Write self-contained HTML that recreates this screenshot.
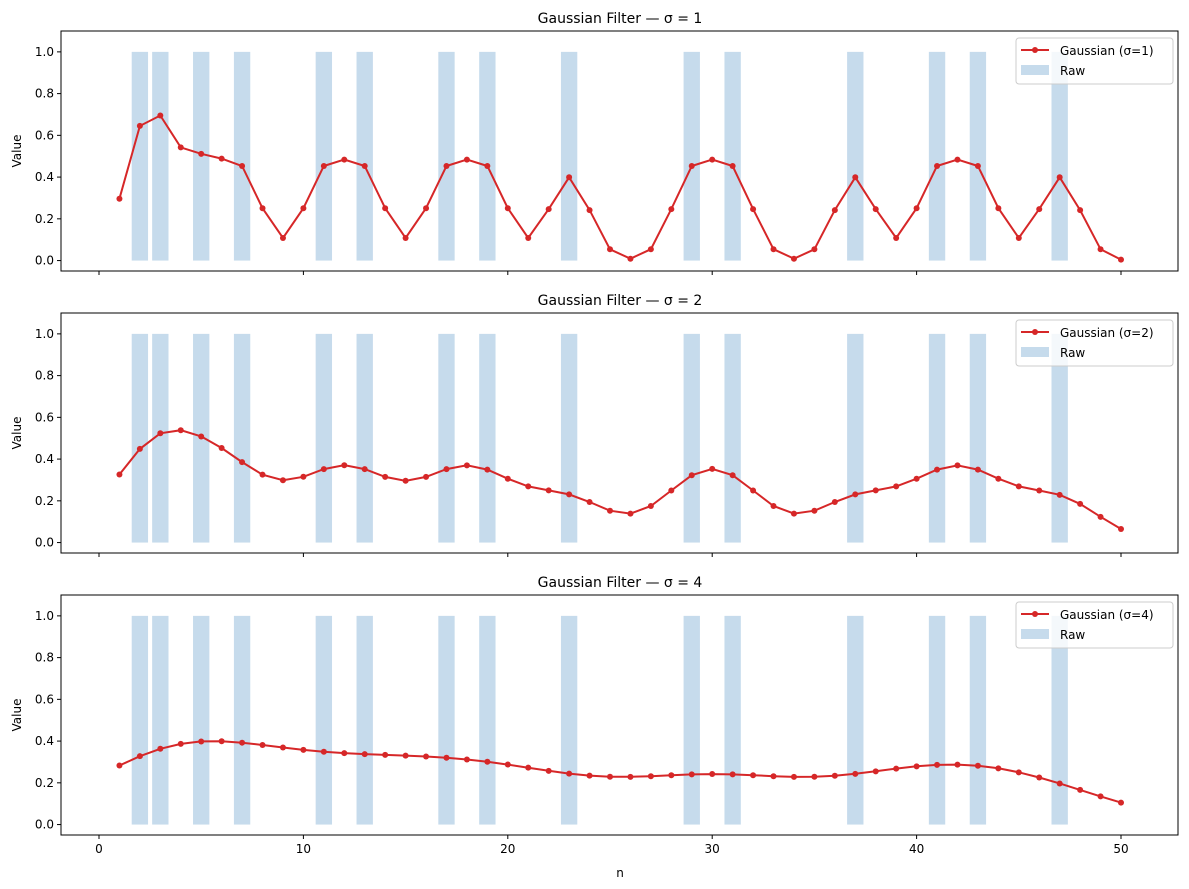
<!DOCTYPE html>
<html><head><meta charset="utf-8"><style>
body{margin:0;background:#fff}
svg{display:block;font-family:"DejaVu Sans","Liberation Sans",sans-serif}
</style></head><body>
<svg id="s" width="1189" height="889" xmlns="http://www.w3.org/2000/svg"></svg>
<script>
const svg=document.getElementById('s');
let h='';
const primes=[2,3,5,7,11,13,17,19,23,29,31,37,41,43,47];
const N=50;const raw=[];for(let n=1;n<=N;n++)raw.push(primes.includes(n)?1:0);
function gf(x,s){const r=Math.round(4*s);const w=[];let sum=0;for(let k=-r;k<=r;k++){const v=Math.exp(-k*k/(2*s*s));w.push(v);sum+=v;}
const out=[];const L=x.length;
for(let i=0;i<L;i++){let a=0;for(let k=-r;k<=r;k++){const j=i+k;if(j>=0&&j<L)a+=w[k+r]/sum*x[j];}out.push(a);}return out;}
const X0=61,X1=1178;
const xs=n=>99+n*(1121-99)/50;
const tops=[31,313,595];
const sigmas=[1,2,4];
tops.forEach((T,p)=>{
 const B=T+240;
 const ys=v=>B-(v+0.05)/1.15*240;
 h+=`<text x="620" y="${T-8}" font-size="14" text-anchor="middle">Gaussian Filter — σ = ${sigmas[p]}</text>`;
 primes.forEach(n=>{h+=`<rect x="${xs(n-0.4)}" y="${ys(1)}" width="${xs(0.8)-xs(0)}" height="${ys(0)-ys(1)}" fill="#c6dbec"/>`;});
 const d=gf(raw,sigmas[p]);
 let pts=d.map((v,i)=>`${xs(i+1).toFixed(1)},${ys(v).toFixed(1)}`).join(' ');
 h+=`<polyline points="${pts}" fill="none" stroke="#d62728" stroke-width="2"/>`;
 d.forEach((v,i)=>{h+=`<circle cx="${xs(i+1)}" cy="${ys(v)}" r="3" fill="#d62728"/>`;});
 h+=`<rect x="${X0}" y="${T}" width="${X1-X0}" height="240" fill="none" stroke="#000" stroke-width="1"/>`;
 for(let k=0;k<=5;k++){const v=k*0.2;const y=ys(v);h+=`<line x1="${X0-4}" x2="${X0}" y1="${y}" y2="${y}" stroke="#000"/><text x="${X0-7}" y="${y+4}" font-size="12" text-anchor="end">${v.toFixed(1)}</text>`;}
 for(let k=0;k<=5;k++){const x=xs(k*10);h+=`<line x1="${x}" x2="${x}" y1="${B}" y2="${B+4}" stroke="#000"/>`;if(p==2)h+=`<text x="${x}" y="${B+18}" font-size="12" text-anchor="middle">${k*10}</text>`;}
 h+=`<text transform="translate(21,${T+120}) rotate(-90)" font-size="12" text-anchor="middle">Value</text>`;
 const lx=1016,ly=T+7;
 h+=`<rect x="${lx}" y="${ly}" width="157" height="46" rx="3" fill="#fff" fill-opacity="0.8" stroke="#ccc"/>`;
 h+=`<line x1="${lx+5}" x2="${lx+33}" y1="${ly+12}" y2="${ly+12}" stroke="#d62728" stroke-width="2"/><circle cx="${lx+19}" cy="${ly+12}" r="3" fill="#d62728"/>`;
 h+=`<text x="${lx+44}" y="${ly+17}" font-size="12">Gaussian (σ=${sigmas[p]})</text>`;
 h+=`<rect x="${lx+5}" y="${ly+27}" width="28" height="10" fill="#c6dbec"/><text x="${lx+44}" y="${ly+37}" font-size="12">Raw</text>`;
});
h+=`<text x="620" y="877" font-size="12" text-anchor="middle">n</text>`;
svg.innerHTML=h;
</script>
</body></html>
